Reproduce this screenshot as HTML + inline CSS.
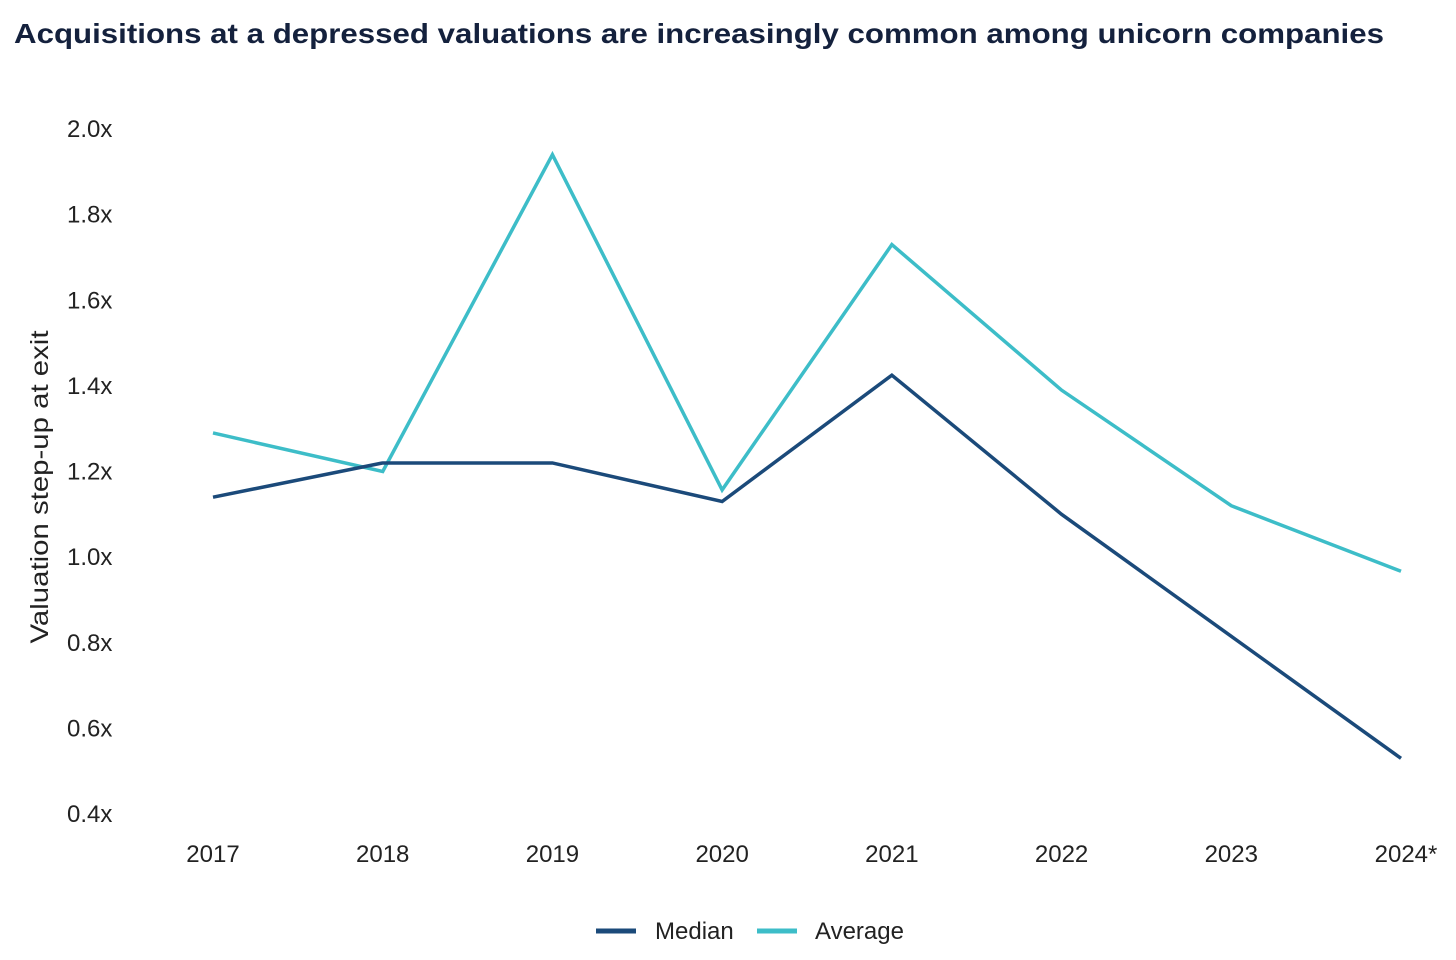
<!DOCTYPE html>
<html><head><meta charset="utf-8"><style>
body{margin:0;background:#fff;width:1456px;height:960px;overflow:hidden;font-family:"Liberation Sans",sans-serif}
svg{display:block}
</style></head><body>
<svg id="chart" width="1456" height="960">
<text x="14" y="43" font-size="28" font-weight="bold" fill="#14213d" textLength="1370" lengthAdjust="spacingAndGlyphs">Acquisitions at a depressed valuations are increasingly common among unicorn companies</text>
<text transform="translate(48,487) rotate(-90)" text-anchor="middle" font-size="25" fill="#222" textLength="313" lengthAdjust="spacingAndGlyphs">Valuation step-up at exit</text>
<g id="yticks"></g><g id="xticks"></g><g id="lines"></g>
<g>
<line x1="596" y1="931" x2="636" y2="931" stroke="#1b4a7a" stroke-width="5"/>
<text x="655" y="939" font-size="24" fill="#222">Median</text>
<line x1="757" y1="931" x2="797" y2="931" stroke="#3dbdc8" stroke-width="5"/>
<text x="815" y="939" font-size="24" fill="#222">Average</text>
</g>
</svg>
<script>
const categories=["2017","2018","2019","2020","2021","2022","2023","2024*"];
const medianValues=[1.14,1.22,1.22,1.13,1.425,1.10,0.815,0.53];
const averageValues=[1.29,1.20,1.94,1.157,1.73,1.39,1.12,0.967];
const yTickValues=[0.4,0.6,0.8,1.0,1.2,1.4,1.6,1.8,2.0];
const yTickLabels=["0.4x","0.6x","0.8x","1.0x","1.2x","1.4x","1.6x","1.8x","2.0x"];
const NS="http://www.w3.org/2000/svg";
function x(i){return 213+i*(1401-213)/(categories.length-1);}
function y(v){return 129+(2.0-v)*(814-129)/1.6;}
const yt=document.getElementById('yticks');
yTickValues.forEach((v,i)=>{const t=document.createElementNS(NS,'text');
t.setAttribute('x',67);t.setAttribute('y',y(v)+8);t.setAttribute('font-size','24');t.setAttribute('fill','#222');
t.textContent=yTickLabels[i];


yt.appendChild(t);});
const xt=document.getElementById('xticks');
categories.forEach((c,i)=>{const t=document.createElementNS(NS,'text');
t.setAttribute('x',x(i)+(i==categories.length-1?5:0));t.setAttribute('y',862);t.setAttribute('font-size','24');t.setAttribute('fill','#222');t.setAttribute('text-anchor','middle');
t.textContent=c;


xt.appendChild(t);});
const lg=document.getElementById('lines');
function draw(vals,color,name){const p=document.createElementNS(NS,'polyline');
p.setAttribute('points',vals.map((v,i)=>x(i)+','+y(v)).join(' '));
p.setAttribute('fill','none');p.setAttribute('stroke',color);p.setAttribute('stroke-width','3.5');p.setAttribute('stroke-linejoin','miter');


lg.appendChild(p);}
draw(averageValues,'#3dbdc8','average-line');
draw(medianValues,'#1b4a7a','median-line');
</script>
</body></html>
